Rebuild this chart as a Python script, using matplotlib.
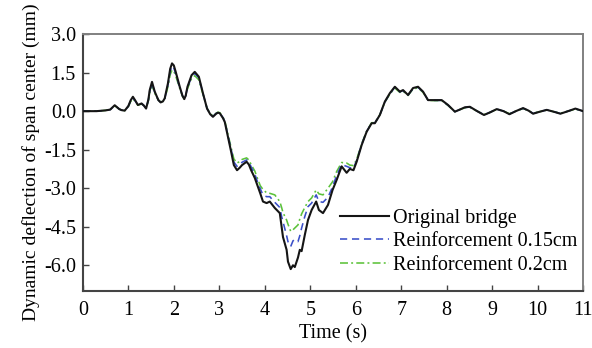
import matplotlib
matplotlib.use("Agg")
import matplotlib.pyplot as plt

# Sample times (s)
time_s = [
    0.0, 0.3, 0.5, 0.6, 0.7, 0.8, 0.85, 0.92, 1.0, 1.05,
    1.1, 1.15, 1.21, 1.29, 1.34, 1.39, 1.44, 1.47, 1.52, 1.58,
    1.66, 1.71, 1.76, 1.8, 1.87, 1.92, 1.96, 2.0, 2.04, 2.13,
    2.19, 2.23, 2.26, 2.3, 2.39, 2.46, 2.55, 2.64, 2.73, 2.8,
    2.86, 2.93, 2.97, 3.01, 3.08, 3.12, 3.19, 3.26, 3.32, 3.39,
    3.45, 3.5, 3.6, 3.65, 3.7, 3.78, 3.84, 3.9, 3.96, 4.04,
    4.11, 4.22, 4.33, 4.37, 4.4, 4.48, 4.51, 4.57, 4.62, 4.66,
    4.73, 4.77, 4.81, 4.88, 4.95, 5.03, 5.13, 5.19, 5.28, 5.39,
    5.49, 5.58, 5.69, 5.8, 5.87, 5.95, 6.02, 6.13, 6.24, 6.35,
    6.42, 6.53, 6.64, 6.75, 6.86, 6.97, 7.04, 7.15, 7.26, 7.37,
    7.48, 7.59, 7.74, 7.89, 8.03, 8.18, 8.3, 8.4, 8.51, 8.67,
    8.82, 8.95, 9.1, 9.25, 9.38, 9.52, 9.68, 9.8, 9.9, 10.05,
    10.2, 10.35, 10.5, 10.67, 10.83, 11.0,
]

# Mid-span dynamic deflection (mm)
original_bridge = [
    0.0, 0.0, 0.03, 0.06, 0.23, 0.08, 0.04, 0.02, 0.2, 0.42,
    0.56, 0.42, 0.24, 0.3, 0.22, 0.1, 0.45, 0.82, 1.14, 0.76,
    0.43, 0.34, 0.38, 0.5, 1.08, 1.65, 1.86, 1.78, 1.54, 0.95,
    0.6, 0.47, 0.6, 0.95, 1.4, 1.53, 1.34, 0.7, 0.1, -0.12,
    -0.22, -0.1, -0.06, -0.08, -0.27, -0.42, -1.0, -1.58, -2.1, -2.3,
    -2.2, -2.1, -1.97, -2.08, -2.3, -2.6, -2.9, -3.2, -3.52, -3.58,
    -3.52, -3.77, -3.97, -4.5, -4.9, -5.4, -5.86, -6.15, -6.0, -6.07,
    -5.7, -5.4, -5.45, -4.82, -4.24, -3.85, -3.52, -3.85, -3.97, -3.65,
    -3.07, -2.68, -2.15, -2.4, -2.25, -2.3, -1.97, -1.32, -0.8, -0.47,
    -0.47, -0.15, 0.37, 0.7, 0.95, 0.76, 0.82, 0.63, 0.9, 0.95,
    0.76, 0.43, 0.43, 0.43, 0.24, -0.02, 0.07, 0.15, 0.17, 0.0,
    -0.15, -0.05, 0.08, 0.0, -0.12, 0.0, 0.12, 0.02, -0.1, -0.02,
    0.05, -0.02, -0.1, 0.0, 0.1, 0.0,
]

reinforcement_015 = [
    0.0, 0.0, 0.03, 0.06, 0.22, 0.08, 0.04, 0.02, 0.19, 0.4,
    0.52, 0.4, 0.24, 0.29, 0.22, 0.11, 0.43, 0.78, 1.08, 0.74,
    0.43, 0.35, 0.38, 0.49, 1.02, 1.55, 1.76, 1.68, 1.46, 0.92,
    0.6, 0.47, 0.59, 0.92, 1.35, 1.47, 1.3, 0.69, 0.11, -0.11,
    -0.2, -0.09, -0.05, -0.07, -0.25, -0.4, -0.95, -1.5, -1.98, -2.15,
    -2.08, -1.99, -1.9, -1.98, -2.17, -2.45, -2.75, -3.02, -3.26, -3.33,
    -3.33, -3.55, -3.75, -4.1, -4.3, -4.85, -5.08, -5.27, -5.05, -5.0,
    -5.08, -4.85, -4.55, -4.1, -3.72, -3.58, -3.26, -3.52, -3.55, -3.35,
    -2.95, -2.5, -2.08, -2.15, -2.2, -2.22, -1.93, -1.3, -0.79, -0.46,
    -0.46, -0.15, 0.36, 0.68, 0.93, 0.75, 0.8, 0.62, 0.88, 0.93,
    0.75, 0.43, 0.42, 0.42, 0.23, -0.02, 0.07, 0.14, 0.16, 0.0,
    -0.14, -0.05, 0.08, 0.0, -0.11, 0.0, 0.11, 0.02, -0.09, -0.02,
    0.05, -0.02, -0.09, 0.0, 0.09, 0.0,
]

reinforcement_02 = [
    0.0, 0.0, 0.03, 0.06, 0.21, 0.08, 0.04, 0.02, 0.18, 0.37,
    0.48, 0.38, 0.23, 0.28, 0.21, 0.12, 0.4, 0.72, 1.0, 0.7,
    0.43, 0.36, 0.38, 0.47, 0.95, 1.42, 1.6, 1.55, 1.38, 0.88,
    0.58, 0.47, 0.57, 0.87, 1.27, 1.38, 1.22, 0.66, 0.12, -0.1,
    -0.18, -0.08, -0.04, -0.06, -0.23, -0.37, -0.9, -1.42, -1.86, -2.02,
    -1.96, -1.88, -1.82, -1.9, -2.08, -2.33, -2.62, -2.9, -3.05, -3.18,
    -3.2, -3.26, -3.52, -3.75, -3.95, -4.24, -4.4, -4.68, -4.62, -4.55,
    -4.43, -4.2, -4.0, -3.75, -3.52, -3.38, -3.07, -3.22, -3.26, -3.0,
    -2.75, -2.35, -2.0, -2.02, -2.1, -2.12, -1.88, -1.27, -0.78, -0.45,
    -0.45, -0.14, 0.35, 0.66, 0.9, 0.73, 0.78, 0.61, 0.86, 0.91,
    0.73, 0.42, 0.41, 0.41, 0.22, -0.02, 0.07, 0.13, 0.15, 0.0,
    -0.13, -0.05, 0.07, 0.0, -0.1, 0.0, 0.1, 0.02, -0.08, -0.02,
    0.04, -0.02, -0.08, 0.0, 0.08, 0.0,
]

series_labels = ["Original bridge", "Reinforcement 0.15cm", "Reinforcement 0.2cm"]
x_ticks = list(range(0, 12))
y_ticks = [3.0, 1.5, 0.0, -1.5, -3.0, -4.5, -6.0]

plt.rcParams["font.family"] = ["Liberation Serif", "DejaVu Serif"]
plt.rcParams["font.size"] = 14.5

fig = plt.figure(figsize=(5.92, 3.48), dpi=100)
ax = fig.add_axes([0.140, 0.164, 0.845, 0.738])

ax.plot(time_s, original_bridge, color="#151515", lw=1.5, ls="-",
        solid_joinstyle="round", label=series_labels[0], zorder=4)
ax.plot(time_s, reinforcement_015, color="#3a4fc8", lw=1.15, ls=(0, (4.5, 3.0)),
        dash_joinstyle="round", label=series_labels[1], zorder=3)
ax.plot(time_s, reinforcement_02, color="#5cc23a", lw=1.15,
        ls=(0, (5.0, 2.0, 1.2, 2.0)), dash_joinstyle="round",
        label=series_labels[2], zorder=2)

ax.set_xlim(0, 11)
ax.set_ylim(-7.0, 3.0)
ax.set_xticks(x_ticks)
ax.set_yticks(y_ticks)
ax.set_yticklabels([f"{v:.1f}" for v in y_ticks])

ax.tick_params(axis="both", direction="in", length=4, width=1.0, color="#444444",
               top=False, right=False, pad=5)
ax.tick_params(axis="x", pad=7)

for side in ("left", "bottom"):
    ax.spines[side].set_color("#444444")
    ax.spines[side].set_linewidth(1.5)
for side in ("top", "right"):
    ax.spines[side].set_color("#808080")
    ax.spines[side].set_linewidth(1.4)

ax.set_xlabel("Time (s)", labelpad=3)
ax.set_ylabel("Dynamic deflection of span center (mm)", fontsize=14, labelpad=3)

ax.legend(loc="lower right", bbox_to_anchor=(1.0, 0.04), frameon=False,
          handlelength=2.4, handletextpad=0.2, labelspacing=0.2,
          borderpad=0.1, borderaxespad=0.2)

fig.savefig("out.png", dpi=100)
